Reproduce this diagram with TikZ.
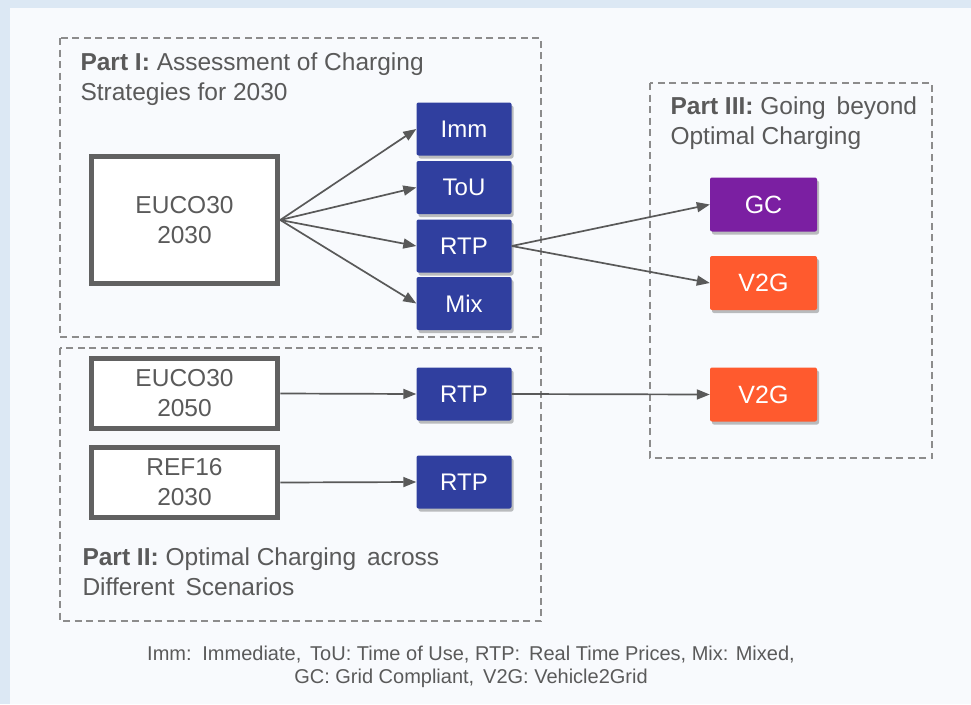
\documentclass[tikz,border=0pt]{standalone}
\usepackage{fontspec}
\setmainfont{Liberation Sans}
\usetikzlibrary{arrows.meta,shadows}
\definecolor{bgblue}{HTML}{DCE8F4}
\definecolor{panel}{HTML}{F8FAFD}
\definecolor{txtgray}{HTML}{5A5A5A}
\definecolor{strat}{HTML}{303F9F}
\definecolor{gcpurple}{HTML}{7B1FA2}
\definecolor{vtog}{HTML}{FF5A2E}

\begin{document}
\begin{tikzpicture}[x=1pt,y=-1pt,
  frame/.style={draw=gray!90,line width=1.6pt,dash pattern=on 7pt off 4.5pt},
  scen/.style={draw=black!62,line width=5.5pt,fill=white,text=txtgray,align=center,
    minimum width=186pt,font=\fontsize{24.5}{30}\selectfont},
  box/.style={rounded corners=2pt,text=white,minimum width=95pt,minimum height=53pt,
    font=\fontsize{24}{26}\selectfont,
    drop shadow={shadow xshift=2pt,shadow yshift=-3pt,opacity=0.25,fill=black}},
  wide/.style={box,minimum width=107pt,minimum height=54pt,font=\fontsize{25}{27}\selectfont},
  label/.style={anchor=west,align=left,text=txtgray,font=\fontsize{24.5}{30}\selectfont},
  arr/.style={draw=black!65,line width=1.7pt,-{Triangle[length=13pt,width=10pt]}}]
\useasboundingbox (0,0) rectangle (971,704);
\fill[bgblue] (0,0) rectangle (971,704);
\fill[panel] (10,8) rectangle (971,704);

\draw[frame] (60,38) rectangle (541,337);
\draw[frame] (60,348) rectangle (541,621);
\draw[frame] (650,83) rectangle (932,458);

\node[label] (p1) at (77,79) {\textbf{Part I:} Assessment of Charging\\Strategies for 2030};
\node[label] (p2) at (79,572) {\textbf{Part II:} Optimal Charging\, across\\Different\, Scenarios};
\node[label] (p3) at (667,123) {\textbf{Part III:} Going\, beyond\\Optimal Charging};

\node[scen,minimum height=127pt] (e2030) at (184.5,220) {EUCO30\\2030};
\node[scen,minimum height=70pt] (e2050) at (184.5,393.5) {EUCO30\\2050};
\node[scen,minimum height=70pt] (r2030) at (184.5,482.5) {REF16\\2030};

\node[box,fill=strat] (imm) at (464,129) {Imm};
\node[box,fill=strat] (tou) at (464,187.5) {ToU};
\node[box,fill=strat] (rtp) at (464,246) {RTP};
\node[box,fill=strat] (mix) at (464,303.5) {Mix};
\node[box,fill=strat] (rtpb) at (464,394) {RTP};
\node[box,fill=strat] (rtpc) at (464,482) {RTP};

\node[wide,fill=gcpurple] (gc) at (763.5,204.5) {GC};
\node[wide,fill=vtog] (vga) at (763.5,283) {V2G};
\node[wide,fill=vtog] (vgb) at (763.5,394.5) {V2G};

\draw[arr] (e2030.east) -- (imm.west);
\draw[arr] (e2030.east) -- (tou.west);
\draw[arr] (e2030.east) -- (rtp.west);
\draw[arr] (e2030.east) -- (mix.west);
\draw[arr] (rtp.east) -- (gc.west);
\draw[arr] (rtp.east) -- (vga.west);
\draw[arr] (e2050.east) -- (rtpb.west);
\draw[arr] (r2030.east) -- (rtpc.west);
\draw[arr] (rtpb.east) -- (vgb.west);

\node[align=center,text=txtgray,font=\fontsize{20}{23}\selectfont] (note) at (471,667)
  {Imm:\, Immediate,\, ToU: Time of Use, RTP:\, Real Time Prices, Mix: Mixed,\\GC: Grid Compliant,\, V2G: Vehicle2Grid};
\end{tikzpicture}
\end{document}
